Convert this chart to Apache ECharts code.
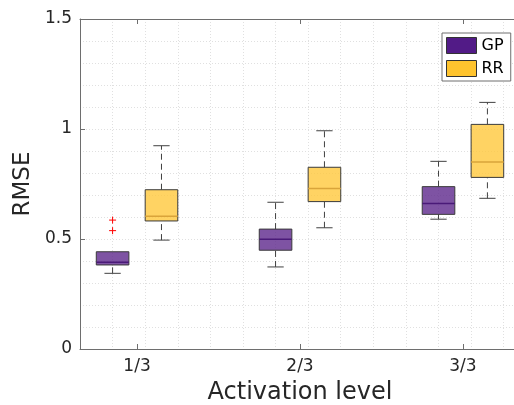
<!DOCTYPE html>
<html>
<head>
<meta charset="utf-8">
<script src="https://cdn.jsdelivr.net/npm/echarts@6/dist/echarts.min.js"></script>
<style>html,body{margin:0;padding:0;background:#fff;}#c{width:514px;height:405px;}</style>
</head>
<body>
<div id="c"></div>
<script>
// ---- data ----
const categories = ['1/3', '2/3', '3/3'];
const categoryPos = [1, 2, 3];
// [lowWhisker, q1, median, q3, highWhisker]
const gpStats = [
  [0.344, 0.382, 0.394, 0.442, 0.442],
  [0.373, 0.449, 0.499, 0.545, 0.667],
  [0.590, 0.612, 0.661, 0.738, 0.853]
];
const rrStats = [
  [0.495, 0.582, 0.603, 0.724, 0.924],
  [0.551, 0.670, 0.730, 0.826, 0.992],
  [0.685, 0.780, 0.850, 1.021, 1.121]
];
// outliers: [category position, value]
const gpOutliers = [[1, 0.586], [1, 0.538]];
const rrOutliers = [];
const yTicks = [0, 0.5, 1, 1.5];

const FONT = 'DejaVu Sans';
const TXT = '#262626';
const AX = '#6e6e6e';

function boxData(stats) {
  return stats.map((s, i) => [categoryPos[i]].concat(s));
}

function boxRenderer(offset, fill, medColor) {
  return function (params, api) {
    const x = api.value(0) + offset;
    const lo = api.value(1), q1 = api.value(2), med = api.value(3), q3 = api.value(4), hi = api.value(5);
    const w = api.size([0.2, 0])[0];
    const capW = api.size([0.1, 0])[0];
    const pLo = api.coord([x, lo]), pQ1 = api.coord([x, q1]), pMed = api.coord([x, med]),
          pQ3 = api.coord([x, q3]), pHi = api.coord([x, hi]);
    const cx = pLo[0];
    const children = [];
    const dashStyle = {stroke: '#404040', lineWidth: 1, lineDash: [6, 4]};
    const capStyle = {stroke: '#404040', lineWidth: 1};
    if (hi > q3) {
      children.push({type: 'line', shape: {x1: cx, y1: pQ3[1], x2: cx, y2: pHi[1]}, style: dashStyle});
      children.push({type: 'line', shape: {x1: cx - capW / 2, y1: pHi[1], x2: cx + capW / 2, y2: pHi[1]}, style: capStyle});
    }
    if (lo < q1) {
      children.push({type: 'line', shape: {x1: cx, y1: pLo[1], x2: cx, y2: pQ1[1]}, style: dashStyle});
      children.push({type: 'line', shape: {x1: cx - capW / 2, y1: pLo[1], x2: cx + capW / 2, y2: pLo[1]}, style: capStyle});
    }
    children.push({type: 'rect', shape: {x: cx - w / 2, y: pQ3[1], width: w, height: pQ1[1] - pQ3[1]},
      style: {fill: fill, stroke: '#3a3a3a', lineWidth: 1}});
    children.push({type: 'line', shape: {x1: cx - w / 2, y1: pMed[1], x2: cx + w / 2, y2: pMed[1]},
      style: {stroke: medColor, lineWidth: 1.5}});
    return {type: 'group', children: children};
  };
}

function outlierRenderer(offset) {
  return function (params, api) {
    const p = api.coord([api.value(0) + offset, api.value(1)]);
    const s = 3.5;
    return {type: 'group', children: [
      {type: 'line', shape: {x1: p[0] - s, y1: p[1], x2: p[0] + s, y2: p[1]}, style: {stroke: '#ff0000', lineWidth: 1}},
      {type: 'line', shape: {x1: p[0], y1: p[1] - s, x2: p[0], y2: p[1] + s}, style: {stroke: '#ff0000', lineWidth: 1}}
    ]};
  };
}

const chart = echarts.init(document.getElementById('c'), null, {renderer: 'canvas'});
const xMin = 0.65, xMax = 3.35;
const gridLine = {show: true, lineStyle: {color: '#e0e0e0', type: [1, 2], width: 1}};

chart.setOption({
  animation: false,
  backgroundColor: '#fff',
  textStyle: {fontFamily: FONT},
  grid: {left: 80, top: 19, right: -6, bottom: 56, containLabel: false, outerBoundsMode: 'none'},
  legend: {
    orient: 'vertical', left: 442, top: 33,
    itemWidth: 30, itemHeight: 16, itemGap: 6,
    padding: [4, 7, 4, 4],
    borderColor: '#6e6e6e', borderWidth: 1, backgroundColor: '#fff',
    textStyle: {fontFamily: FONT, fontSize: 16, color: '#000'},
    icon: 'rect',
    data: [
      {name: 'GP', itemStyle: {color: '#521b87', borderColor: '#333', borderWidth: 1}},
      {name: 'RR', itemStyle: {color: '#ffc42e', borderColor: '#333', borderWidth: 1}}
    ]
  },
  xAxis: [
    {type: 'value', min: xMin, max: xMax, interval: 0.2, position: 'bottom',
     axisLine: {show: true, onZero: false, lineStyle: {color: AX}},
     axisTick: {show: false}, axisLabel: {show: false}, splitLine: gridLine},
    {type: 'value', min: xMin, max: xMax, position: 'bottom',
     axisLine: {show: false, onZero: false},
     axisTick: {show: true, inside: true, length: 5, customValues: categoryPos, lineStyle: {color: AX}},
     axisLabel: {show: true, customValues: categoryPos, margin: 9, fontFamily: FONT, fontSize: 17, color: TXT,
       formatter: v => { const i = categoryPos.findIndex(c => Math.abs(c - v) < 1e-6); return i >= 0 ? categories[i] : ''; }},
     splitLine: {show: false},
     name: 'Activation level', nameLocation: 'middle', nameGap: 32,
     nameTextStyle: {fontFamily: FONT, fontSize: 24, color: TXT}},
    {type: 'value', min: xMin, max: xMax, position: 'top',
     axisLine: {show: true, onZero: false, lineStyle: {color: AX}},
     axisTick: {show: true, inside: true, length: 5, customValues: categoryPos, lineStyle: {color: AX}},
     axisLabel: {show: false}, splitLine: {show: false}}
  ],
  yAxis: [
    {type: 'value', min: 0, max: 1.5, interval: 0.1, position: 'left',
     axisLine: {show: true, onZero: false, lineStyle: {color: AX}},
     axisTick: {show: false}, axisLabel: {show: false}, splitLine: gridLine},
    {type: 'value', min: 0, max: 1.5, interval: 0.5, position: 'left',
     axisLine: {show: false, onZero: false},
     axisTick: {show: true, inside: true, length: 5, lineStyle: {color: AX}},
     axisLabel: {show: true, margin: 8, fontFamily: FONT, fontSize: 17, color: TXT,
       formatter: v => String(yTicks.find(t => Math.abs(t - v) < 1e-6) ?? '')},
     splitLine: {show: false},
     name: 'RMSE', nameLocation: 'middle', nameGap: 42, nameRotate: 90,
     nameTextStyle: {fontFamily: FONT, fontSize: 23, color: TXT}}
  ],
  series: [
    {name: 'GP', type: 'custom', xAxisIndex: 0, yAxisIndex: 0, itemStyle: {color: '#521b87'},
     encode: {x: 0, y: [1, 2, 3, 4, 5]}, data: boxData(gpStats),
     renderItem: boxRenderer(-0.15, 'rgba(94,40,140,0.8)', '#4a1a78'), z: 3},
    {name: 'RR', type: 'custom', xAxisIndex: 0, yAxisIndex: 0, itemStyle: {color: '#ffc42e'},
     encode: {x: 0, y: [1, 2, 3, 4, 5]}, data: boxData(rrStats),
     renderItem: boxRenderer(0.15, 'rgba(255,200,60,0.8)', '#d9a43a'), z: 3},
    {name: 'GP outliers', type: 'custom', xAxisIndex: 0, yAxisIndex: 0,
     encode: {x: 0, y: 1}, data: gpOutliers, renderItem: outlierRenderer(-0.15), z: 4},
    {name: 'RR outliers', type: 'custom', xAxisIndex: 0, yAxisIndex: 0,
     encode: {x: 0, y: 1}, data: rrOutliers, renderItem: outlierRenderer(0.15), z: 4}
  ]
});
</script>
</body>
</html>
